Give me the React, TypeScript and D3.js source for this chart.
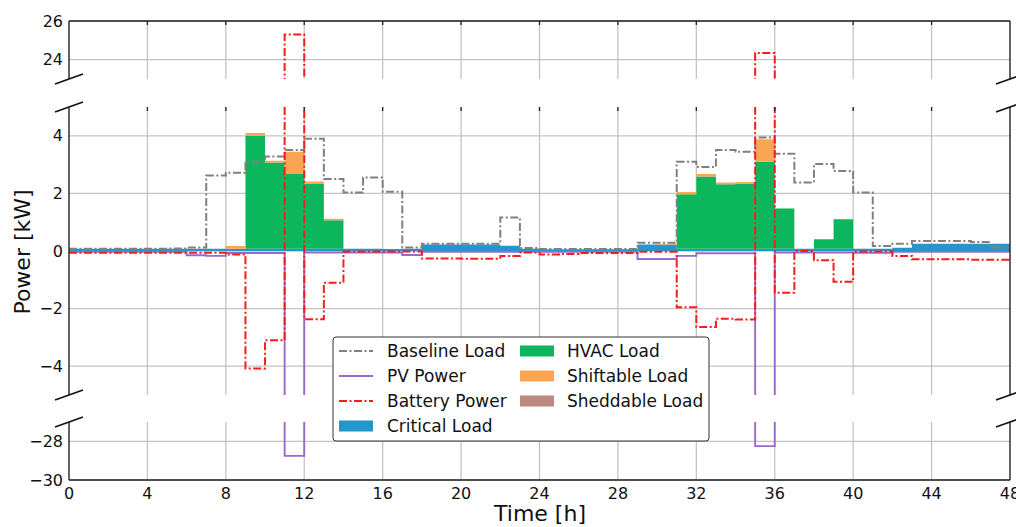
import React from "react";
import * as d3 from "d3";

// ---- data (one value per hour, step-post) ----
const HOURS_X_TICKS = [0, 4, 8, 12, 16, 20, 24, 28, 32, 36, 40, 44, 48];
const TOP_TICKS = [24, 26];
const MID_TICKS = [-4, -2, 0, 2, 4];
const BOT_TICKS = [-30, -28];

const baselineLoad = [
  0.08, 0.08, 0.08, 0.08, 0.08, 0.09, 0.12, 2.62, 2.72, 3.1, 3.28, 3.51,
  3.9, 2.5, 2.03, 2.55, 2.06, 0.12, 0.25, 0.25, 0.25, 0.25, 1.16, 0.1,
  0.07, 0.07, 0.07, 0.07, 0.07, 0.29, 0.29, 3.1, 2.92, 3.51, 3.45, 3.94,
  3.38, 2.38, 3.02, 2.78, 2.03, 0.17, 0.25, 0.35, 0.35, 0.35, 0.31, 0.12,
];
const pvPower = [
  -0.03, -0.03, -0.03, -0.03, -0.03, -0.03, -0.15, -0.17, -0.07, -0.07, -0.07, -28.75,
  -0.05, -0.05, -0.05, -0.05, -0.05, -0.14, -0.03, -0.03, -0.03, -0.03, -0.03, -0.03,
  -0.03, -0.03, -0.03, -0.03, -0.03, -0.28, -0.28, -0.17, -0.08, -0.08, -0.08, -28.25,
  -0.05, -0.05, -0.05, -0.05, -0.06, -0.06, -0.03, -0.03, -0.03, -0.03, -0.03, -0.03,
];
const batteryPower = [
  -0.06, -0.06, -0.06, -0.06, -0.06, -0.06, -0.06, -0.06, -0.12, -4.08, -3.1, 25.3,
  -2.37, -1.1, -0.02, -0.02, -0.02, -0.02, -0.26, -0.26, -0.27, -0.27, -0.17, -0.05,
  -0.12, -0.1, -0.07, -0.07, -0.07, -0.03, -0.03, -1.95, -2.64, -2.35, -2.38, 24.35,
  -1.45, 0.0, -0.32, -1.07, -0.02, -0.02, -0.17, -0.29, -0.29, -0.29, -0.3, -0.3,
];
const criticalLoad = [
  0.08, 0.08, 0.08, 0.08, 0.08, 0.08, 0.08, 0.08, 0.08, 0.08, 0.08, 0.08,
  0.08, 0.08, 0.08, 0.08, 0.07, 0.08, 0.23, 0.23, 0.23, 0.23, 0.18, 0.08,
  0.06, 0.06, 0.06, 0.06, 0.06, 0.23, 0.23, 0.08, 0.08, 0.08, 0.08, 0.08,
  0.08, 0.08, 0.08, 0.08, 0.08, 0.08, 0.11, 0.25, 0.25, 0.25, 0.25, 0.25,
];
const hvacLoad = [
  0, 0, 0, 0, 0, 0, 0, 0, 0, 3.92, 2.99, 2.59,
  2.26, 0.99, 0, 0, 0, 0, 0, 0, 0, 0, 0, 0,
  0, 0, 0, 0, 0, 0, 0, 1.89, 2.51, 2.24, 2.26, 3.02,
  1.4, 0, 0.33, 1.02, 0, 0, 0, 0, 0, 0, 0, 0,
];
const shiftableLoad = [
  0, 0, 0, 0, 0, 0, 0, 0, 0.09, 0.1, 0.06, 0.78,
  0.07, 0.05, 0, 0, 0, 0, 0, 0, 0, 0, 0, 0,
  0, 0, 0, 0, 0, 0, 0.02, 0.08, 0.08, 0.06, 0.06, 0.78,
  0, 0, 0, 0, 0, 0, 0, 0, 0, 0, 0, 0,
];
const sheddableLoad = [
  0, 0, 0, 0, 0, 0, 0, 0, 0, 0, 0, 0,
  0, 0, 0, 0, 0, 0, 0, 0, 0, 0, 0, 0,
  0, 0, 0, 0, 0, 0, 0, 0, 0, 0, 0, 0,
  0, 0, 0, 0, 0, 0, 0, 0, 0, 0, 0, 0,
];

const COLORS = {
  baseline: "#808080",
  pv: "#9a6acb",
  battery: "#ff1a1a",
  critical: "#2496cc",
  hvac: "#0cb65c",
  shiftable: "#fba552",
  sheddable: "#bd8a7f",
};

const FONT = "DejaVu Sans, sans-serif";
const W = 1016;
const H = 527;
const DASHDOT = "8,2.5,2,2.5";

const x = d3.scaleLinear().domain([0, 48]).range([69, 1010]);

const panels = [
  { id: "top", domain: [23, 26], range: [79, 21], ticks: TOP_TICKS, topSpine: true, bottomSpine: false, topTicks: true },
  { id: "mid", domain: [-5, 5], range: [395, 107], ticks: MID_TICKS, topSpine: false, bottomSpine: false, topTicks: true },
  { id: "bot", domain: [-30, -27], range: [480, 422], ticks: BOT_TICKS, topSpine: false, bottomSpine: true, topTicks: false },
];

const extend = (arr: number[]) => [...arr, arr[arr.length - 1]];

const stackKeys = ["critical", "hvac", "shiftable", "sheddable"];
const stackRows = extend(criticalLoad).map((_, i) => ({
  critical: extend(criticalLoad)[i],
  hvac: extend(hvacLoad)[i],
  shiftable: extend(shiftableLoad)[i],
  sheddable: extend(sheddableLoad)[i],
}));
const stacked = d3.stack<any>().keys(stackKeys)(stackRows);

const fmt = (v: number) => (v < 0 ? "\u2212" + Math.abs(v) : String(v));

export default function App() {
  return (
    <svg
      width={W}
      height={H}
      style={{ position: "absolute", left: 0, top: 0, background: "#fff" }}
      fontFamily={FONT}
    >
      <defs>
        {panels.map((p) => (
          <clipPath id={`clip-${p.id}`} key={p.id}>
            <rect x={x(0)} y={p.range[1]} width={x(48) - x(0)} height={p.range[0] - p.range[1]} />
          </clipPath>
        ))}
      </defs>
      <rect x={0} y={0} width={W} height={H} fill="#fff" />
      {panels.map((p) => {
        const y = d3.scaleLinear().domain(p.domain).range(p.range);
        const line = d3
          .line<number>()
          .x((_, i) => x(i))
          .y((d) => y(d))
          .curve(d3.curveStepAfter);
        const area = d3
          .area<any>()
          .x((_, i) => x(i))
          .y0((d) => y(d[0]))
          .y1((d) => y(d[1]))
          .curve(d3.curveStepAfter);
        const top = p.range[1];
        const bottom = p.range[0];
        return (
          <g key={p.id}>
            {HOURS_X_TICKS.slice(1, -1).map((t) => (
              <line key={"vx" + t} x1={x(t)} x2={x(t)} y1={top} y2={bottom} stroke="#c4c4c4" strokeWidth={1.3} />
            ))}
            {p.ticks.map((t) => (
              <line key={"hy" + t} x1={x(0)} x2={x(48)} y1={y(t)} y2={y(t)} stroke="#c4c4c4" strokeWidth={1.3} />
            ))}
            <g clipPath={`url(#clip-${p.id})`}>
              {stacked.map((s) => (
                <path key={s.key} d={area(s as any) || ""} fill={(COLORS as any)[s.key]} stroke="none" />
              ))}
              <path d={line(extend(baselineLoad)) || ""} fill="none" stroke={COLORS.baseline} strokeWidth={2} strokeDasharray={DASHDOT} />
              <path d={line(extend(pvPower)) || ""} fill="none" stroke={COLORS.pv} strokeWidth={1.9} />
              <path d={line(extend(batteryPower)) || ""} fill="none" stroke={COLORS.battery} strokeWidth={2} strokeDasharray={DASHDOT} />
            </g>
            <line x1={x(0)} x2={x(0)} y1={top} y2={bottom} stroke="#222" strokeWidth={1.4} />
            <line x1={x(48)} x2={x(48)} y1={top} y2={bottom} stroke="#222" strokeWidth={1.4} />
            {p.topSpine && <line x1={x(0)} x2={x(48)} y1={top} y2={top} stroke="#222" strokeWidth={1.4} />}
            {p.bottomSpine && <line x1={x(0)} x2={x(48)} y1={bottom} y2={bottom} stroke="#222" strokeWidth={1.4} />}
            {p.topTicks &&
              HOURS_X_TICKS.slice(1, -1).map((t) => (
                <line key={"tt" + t} x1={x(t)} x2={x(t)} y1={top} y2={top + 4} stroke="#222" strokeWidth={1.3} />
              ))}
            {p.ticks.map((t) => (
              <text key={"yl" + t} x={63} y={y(t)} textAnchor="end" dominantBaseline="central" fontSize={16} fill="#111">
                {fmt(t)}
              </text>
            ))}
          </g>
        );
      })}
      {[79, 107, 395, 422].map((yy) =>
        [x(0), x(48)].map((xx) => (
          <line key={`br${yy}-${xx}`} x1={xx - 14} y1={yy + 5} x2={xx + 14} y2={yy - 5} stroke="#111" strokeWidth={1.6} />
        ))
      )}
      {HOURS_X_TICKS.map((t) => (
        <text key={"xl" + t} x={x(t)} y={499} textAnchor="middle" fontSize={16} fill="#111">
          {t}
        </text>
      ))}
      <text x={540} y={521} textAnchor="middle" fontSize={22} fill="#111">
        Time [h]
      </text>
      <text transform="translate(30,252) rotate(-90)" textAnchor="middle" fontSize={22} fill="#111">
        Power [kW]
      </text>
      <g>
        <rect x={333} y={337} width={376} height={104} rx={3} fill="#fff" stroke="#333" strokeWidth={1} />
        {[
          { label: "Baseline Load", kind: "line", color: COLORS.baseline, dash: DASHDOT },
          { label: "PV Power", kind: "line", color: COLORS.pv, dash: undefined },
          { label: "Battery Power", kind: "line", color: COLORS.battery, dash: DASHDOT },
          { label: "Critical Load", kind: "patch", color: COLORS.critical, dash: undefined },
        ].map((it, i) => {
          const cy = 351 + i * 25;
          return (
            <g key={it.label}>
              {it.kind === "line" ? (
                <line x1={339} x2={373} y1={cy} y2={cy} stroke={it.color} strokeWidth={2} strokeDasharray={it.dash} />
              ) : (
                <rect x={339} y={cy - 5.5} width={34} height={11} fill={it.color} />
              )}
              <text x={387} y={cy} dominantBaseline="central" fontSize={17} fill="#111">
                {it.label}
              </text>
            </g>
          );
        })}
        {[
          { label: "HVAC Load", color: COLORS.hvac },
          { label: "Shiftable Load", color: COLORS.shiftable },
          { label: "Sheddable Load", color: COLORS.sheddable },
        ].map((it, i) => {
          const cy = 351 + i * 25;
          return (
            <g key={it.label}>
              <rect x={520} y={cy - 5.5} width={34} height={11} fill={it.color} />
              <text x={567} y={cy} dominantBaseline="central" fontSize={17} fill="#111">
                {it.label}
              </text>
            </g>
          );
        })}
      </g>
    </svg>
  );
}
